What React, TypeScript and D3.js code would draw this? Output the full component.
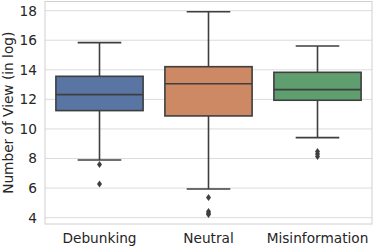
import React from "react";
import * as d3 from "d3";

const categories = ["Debunking", "Neutral", "Misinformation"];
const whiskerLow = [7.9, 5.94, 9.41];
const q1 = [11.24, 10.88, 11.94];
const median = [12.32, 13.06, 12.66];
const q3 = [13.56, 14.21, 13.83];
const whiskerHigh = [15.84, 17.93, 15.61];
const outliers = [
  [7.59, 6.28],
  [5.36, 4.42, 4.3, 4.22],
  [8.47, 8.3, 8.13],
];
const yTicks = [4, 6, 8, 10, 12, 14, 16, 18];
const colors = ["#5975a4", "#cc8963", "#5f9e6e"];

export default function App() {
  const W = 374, H = 247;
  const left = 45, right = 372, top = 1.5, bottom = 224;
  const x = d3.scaleBand().domain(categories).range([left, right]).paddingInner(0).paddingOuter(0);
  const y = d3.scaleLinear().domain([3.57, 18.62]).range([bottom, top]);
  const bw = x.bandwidth() * 0.8;
  const line = "#3f3f3f";
  const font = "DejaVu Sans, sans-serif";
  const fs = 13.7;
  return (
    <svg width={W} height={H} style={{ position: "absolute", left: 0, top: 0 }}>
      <rect x={0} y={0} width={W} height={H} fill="#fff" />
      {yTicks.map((t) => (
        <g key={t}>
          <line x1={left} x2={right} y1={y(t)} y2={y(t)} stroke="#dcdcdc" strokeWidth={1} />
          <text x={37} y={y(t)} dy="0.36em" textAnchor="end" fontFamily={font} fontSize={fs} fill="#262626">{t}</text>
        </g>
      ))}
      <rect x={left} y={top} width={right - left} height={bottom - top} fill="none" stroke="#d0d0d0" strokeWidth={1} />
      {categories.map((c, i) => {
        const cx = x(c)! + x.bandwidth() / 2;
        const capW = bw / 2;
        return (
          <g key={c}>
            <line x1={cx} x2={cx} y1={y(q3[i])} y2={y(whiskerHigh[i])} stroke={line} strokeWidth={1.6} />
            <line x1={cx} x2={cx} y1={y(q1[i])} y2={y(whiskerLow[i])} stroke={line} strokeWidth={1.6} />
            <line x1={cx - capW / 2} x2={cx + capW / 2} y1={y(whiskerHigh[i])} y2={y(whiskerHigh[i])} stroke={line} strokeWidth={1.6} />
            <line x1={cx - capW / 2} x2={cx + capW / 2} y1={y(whiskerLow[i])} y2={y(whiskerLow[i])} stroke={line} strokeWidth={1.6} />
            <rect x={cx - bw / 2} y={y(q3[i])} width={bw} height={y(q1[i]) - y(q3[i])} fill={colors[i]} stroke={line} strokeWidth={1.6} />
            <line x1={cx - bw / 2} x2={cx + bw / 2} y1={y(median[i])} y2={y(median[i])} stroke={line} strokeWidth={1.6} />
            {outliers[i].map((o, j) => (
              <path key={j} d={`M${cx},${y(o) - 3.5}L${cx + 2.5},${y(o)}L${cx},${y(o) + 3.5}L${cx - 2.5},${y(o)}Z`} fill={line} />
            ))}
            <text x={cx} y={243} textAnchor="middle" fontFamily={font} fontSize={fs} fill="#262626">{c}</text>
          </g>
        );
      })}
      <text transform={`translate(12.5,${(top + bottom) / 2}) rotate(-90)`} textAnchor="middle" fontFamily={font} fontSize={fs} fill="#262626">Number of View (in log)</text>
    </svg>
  );
}
